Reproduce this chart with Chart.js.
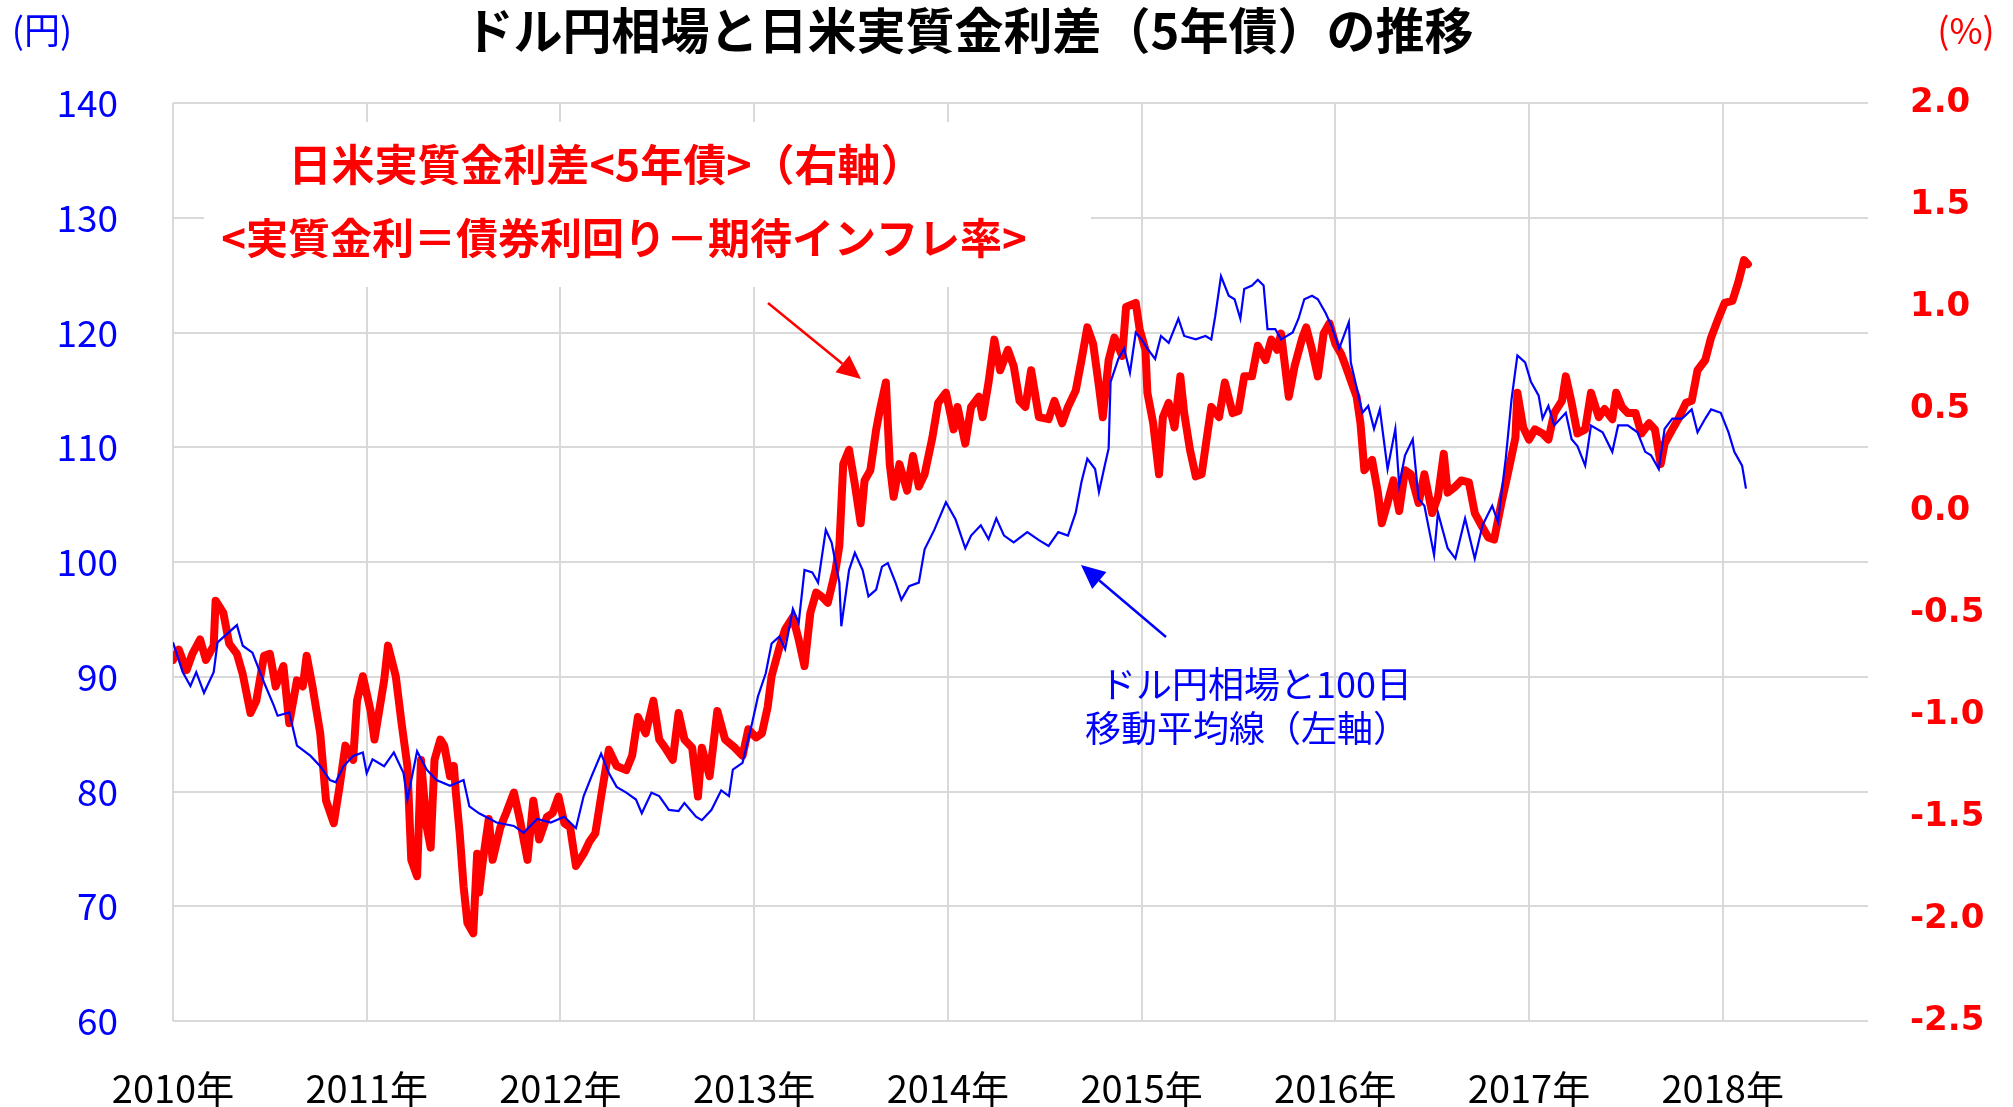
<!DOCTYPE html>
<html>
<head>
<meta charset="utf-8">
<script src="https://cdn.jsdelivr.net/npm/chart.js@4.4.1/dist/chart.umd.min.js"></script>
<style>
    html, body { margin: 0; padding: 0; background: #ffffff; }
    #chart { display: block; }
</style>
</head>
<body>
<canvas id="chart" width="2013" height="1107"></canvas>
<script>
// DATA
const yearTicks = [2010, 2011, 2012, 2013, 2014, 2015, 2016, 2017, 2018];

// ドル円相場 (左軸, 円)
const usdDates = [
    2010.00, 2010.05, 2010.09, 2010.12, 2010.16, 2010.21, 2010.23, 2010.33, 2010.36, 2010.41,
    2010.47, 2010.52, 2010.54, 2010.60, 2010.64, 2010.71, 2010.76, 2010.81, 2010.84, 2010.88,
    2010.93, 2010.98, 2011.00, 2011.03, 2011.09, 2011.14, 2011.19, 2011.21, 2011.26, 2011.31,
    2011.36, 2011.43, 2011.50, 2011.53, 2011.58, 2011.67, 2011.76, 2011.81, 2011.88, 2011.95,
    2012.02, 2012.08, 2012.12, 2012.16, 2012.21, 2012.25, 2012.29, 2012.34, 2012.39, 2012.42,
    2012.47, 2012.51, 2012.56, 2012.61, 2012.64, 2012.70, 2012.73, 2012.78, 2012.83, 2012.87,
    2012.89, 2012.94, 2012.99, 2013.02, 2013.06, 2013.09, 2013.13, 2013.16, 2013.20, 2013.23,
    2013.26, 2013.30, 2013.33, 2013.37, 2013.40, 2013.44, 2013.45, 2013.49, 2013.52, 2013.56,
    2013.59, 2013.63, 2013.66, 2013.69, 2013.73, 2013.76, 2013.80, 2013.85, 2013.88, 2013.93,
    2013.99, 2014.04, 2014.09, 2014.12, 2014.17, 2014.21, 2014.25, 2014.29, 2014.34, 2014.41,
    2014.47, 2014.52, 2014.57, 2014.62, 2014.66, 2014.69, 2014.72, 2014.76, 2014.78, 2014.81,
    2014.83, 2014.84, 2014.88, 2014.91, 2014.94, 2014.97, 2015.00, 2015.03, 2015.07, 2015.10,
    2015.14, 2015.19, 2015.22, 2015.28, 2015.33, 2015.36, 2015.38, 2015.41, 2015.45, 2015.48,
    2015.51, 2015.53, 2015.57, 2015.60, 2015.63, 2015.65, 2015.69, 2015.72, 2015.78, 2015.81,
    2015.84, 2015.88, 2015.91, 2015.95, 2015.98, 2016.02, 2016.07, 2016.08, 2016.14, 2016.17,
    2016.20, 2016.23, 2016.27, 2016.31, 2016.33, 2016.36, 2016.40, 2016.43, 2016.46, 2016.51,
    2016.53, 2016.58, 2016.62, 2016.67, 2016.72, 2016.76, 2016.81, 2016.84, 2016.88, 2016.91,
    2016.94, 2016.98, 2017.01, 2017.05, 2017.07, 2017.10, 2017.13, 2017.19, 2017.22, 2017.25,
    2017.29, 2017.32, 2017.38, 2017.43, 2017.46, 2017.51, 2017.56, 2017.60, 2017.63, 2017.67,
    2017.70, 2017.74, 2017.79, 2017.84, 2017.87, 2017.91, 2017.94, 2017.99, 2018.03, 2018.06,
    2018.10, 2018.12
];
const usdValues = [
    93.0, 90.4, 89.2, 90.4, 88.6, 90.4, 93.0, 94.5, 92.7, 92.1,
    89.5, 87.5, 86.6, 86.9, 84.0, 83.1, 82.2, 81.0, 80.8, 82.2,
    83.1, 83.4, 81.6, 82.8, 82.2, 83.4, 81.6, 79.3, 83.5, 81.9,
    81.0, 80.5, 81.0, 78.7, 78.1, 77.3, 77.0, 76.4, 77.6, 77.3,
    77.8, 76.8, 79.6, 81.3, 83.3, 81.6, 80.4, 79.9, 79.3, 78.1,
    79.9, 79.6, 78.4, 78.3, 79.0, 77.8, 77.5, 78.4, 80.1, 79.6,
    81.9, 82.5, 86.0, 88.3, 90.3, 92.9, 93.5, 92.4, 95.9, 94.7,
    99.3, 99.1, 98.2, 102.8, 101.7, 98.2, 94.4, 99.3, 100.8, 99.3,
    97.0, 97.6, 99.6, 99.9, 98.2, 96.7, 97.9, 98.2, 101.1, 102.8,
    105.2, 103.7, 101.2, 102.3, 103.2, 102.0, 103.8, 102.3, 101.7, 102.6,
    101.9, 101.4, 102.6, 102.3, 104.3, 107.0, 109.0, 108.1, 106.1, 108.4,
    109.9, 115.7, 117.7, 118.6, 116.5, 120.0, 119.4, 118.6, 117.7, 119.7,
    119.1, 121.2, 119.7, 119.4, 119.7, 119.4, 121.4, 124.9, 123.2, 122.9,
    121.2, 123.8, 124.1, 124.6, 124.1, 120.3, 120.3, 119.4, 120.0, 121.2,
    122.9, 123.2, 122.9, 121.7, 120.6, 118.6, 120.9, 117.4, 113.0, 113.6,
    111.6, 113.3, 108.1, 111.6, 106.7, 109.3, 110.7, 105.5, 104.9, 100.6,
    104.3, 101.2, 100.3, 103.8, 100.3, 103.2, 104.9, 103.5, 109.0, 114.2,
    118.0, 117.4, 115.7, 114.5, 112.5, 113.6, 111.9, 113.0, 110.7, 110.1,
    108.4, 111.9, 111.3, 109.6, 111.9, 111.9, 111.3, 109.6, 109.3, 108.1,
    111.6, 112.5, 112.5, 113.3, 111.3, 112.5, 113.3, 113.0, 111.3, 109.6,
    108.4, 106.4
];

// 日米実質金利差<5年債> (右軸, %)
const diffDates = [
    2010.00, 2010.03, 2010.07, 2010.10, 2010.14, 2010.17, 2010.21, 2010.22, 2010.26, 2010.29,
    2010.33, 2010.36, 2010.40, 2010.43, 2010.47, 2010.50, 2010.53, 2010.57, 2010.60, 2010.64,
    2010.67, 2010.69, 2010.72, 2010.76, 2010.79, 2010.83, 2010.86, 2010.89, 2010.93, 2010.95,
    2010.98, 2011.02, 2011.04, 2011.09, 2011.11, 2011.15, 2011.18, 2011.21, 2011.23, 2011.26,
    2011.28, 2011.31, 2011.33, 2011.35, 2011.38, 2011.40, 2011.43, 2011.45, 2011.46, 2011.48,
    2011.50, 2011.52, 2011.55, 2011.57, 2011.58, 2011.60, 2011.63, 2011.65, 2011.69, 2011.72,
    2011.76, 2011.79, 2011.83, 2011.86, 2011.89, 2011.93, 2011.96, 2011.99, 2012.02, 2012.05,
    2012.08, 2012.12, 2012.15, 2012.18, 2012.21, 2012.25, 2012.29, 2012.34, 2012.37, 2012.40,
    2012.44, 2012.48, 2012.51, 2012.54, 2012.58, 2012.61, 2012.64, 2012.68, 2012.71, 2012.73,
    2012.77, 2012.81, 2012.85, 2012.90, 2012.94, 2012.97, 2013.01, 2013.04, 2013.07, 2013.09,
    2013.13, 2013.16, 2013.20, 2013.23, 2013.26, 2013.29, 2013.32, 2013.35, 2013.38, 2013.42,
    2013.44, 2013.46, 2013.49, 2013.52, 2013.55, 2013.57, 2013.60, 2013.63, 2013.65, 2013.68,
    2013.70, 2013.72, 2013.75, 2013.79, 2013.82, 2013.85, 2013.88, 2013.92, 2013.95, 2013.99,
    2014.03, 2014.05, 2014.09, 2014.12, 2014.16, 2014.18, 2014.21, 2014.24, 2014.27, 2014.31,
    2014.34, 2014.37, 2014.40, 2014.43, 2014.47, 2014.52, 2014.55, 2014.59, 2014.62, 2014.66,
    2014.69, 2014.72, 2014.75, 2014.78, 2014.80, 2014.83, 2014.86, 2014.90, 2014.92, 2014.97,
    2014.99, 2015.02, 2015.03, 2015.06, 2015.09, 2015.11, 2015.14, 2015.17, 2015.20, 2015.22,
    2015.25, 2015.28, 2015.31, 2015.34, 2015.36, 2015.40, 2015.43, 2015.47, 2015.50, 2015.53,
    2015.57, 2015.60, 2015.64, 2015.67, 2015.70, 2015.72, 2015.76, 2015.79, 2015.83, 2015.85,
    2015.88, 2015.91, 2015.94, 2015.97, 2016.00, 2016.03, 2016.05, 2016.08, 2016.11, 2016.13,
    2016.15, 2016.19, 2016.22, 2016.24, 2016.27, 2016.30, 2016.33, 2016.36, 2016.39, 2016.43,
    2016.46, 2016.50, 2016.53, 2016.56, 2016.58, 2016.62, 2016.65, 2016.69, 2016.72, 2016.76,
    2016.79, 2016.82, 2016.86, 2016.89, 2016.93, 2016.94, 2016.97, 2017.00, 2017.03, 2017.07,
    2017.10, 2017.13, 2017.17, 2017.19, 2017.22, 2017.25, 2017.29, 2017.32, 2017.36, 2017.39,
    2017.43, 2017.45, 2017.48, 2017.51, 2017.55, 2017.58, 2017.62, 2017.65, 2017.68, 2017.70,
    2017.74, 2017.77, 2017.81, 2017.84, 2017.87, 2017.91, 2017.94, 2017.98, 2018.01, 2018.05,
    2018.08, 2018.11, 2018.13
];
const diffValues = [
    -0.73, -0.68, -0.78, -0.70, -0.63, -0.73, -0.66, -0.44, -0.50, -0.65,
    -0.70, -0.80, -0.99, -0.93, -0.71, -0.70, -0.86, -0.76, -1.04, -0.83,
    -0.86, -0.71, -0.86, -1.09, -1.42, -1.53, -1.35, -1.15, -1.22, -0.93,
    -0.81, -0.98, -1.12, -0.83, -0.66, -0.81, -1.04, -1.25, -1.71, -1.79,
    -1.22, -1.55, -1.65, -1.22, -1.12, -1.15, -1.30, -1.25, -1.38, -1.58,
    -1.84, -2.02, -2.07, -1.68, -1.87, -1.71, -1.51, -1.71, -1.55, -1.48,
    -1.38, -1.51, -1.71, -1.42, -1.61, -1.50, -1.48, -1.40, -1.53, -1.55,
    -1.74, -1.68, -1.62, -1.58, -1.40, -1.17, -1.25, -1.27, -1.20, -1.01,
    -1.09, -0.93, -1.12, -1.16, -1.22, -0.99, -1.12, -1.16, -1.40, -1.16,
    -1.30, -0.98, -1.12, -1.16, -1.20, -1.07, -1.11, -1.09, -0.96, -0.81,
    -0.67, -0.58, -0.52, -0.63, -0.76, -0.50, -0.40, -0.42, -0.45, -0.29,
    -0.17, 0.23, 0.30, 0.13, -0.06, 0.15, 0.20, 0.40, 0.50, 0.63,
    0.23, 0.07, 0.23, 0.10, 0.27, 0.12, 0.18, 0.36, 0.53, 0.58,
    0.40, 0.51, 0.33, 0.51, 0.56, 0.46, 0.63, 0.84, 0.69, 0.79,
    0.71, 0.54, 0.51, 0.69, 0.46, 0.45, 0.54, 0.43, 0.51, 0.59,
    0.74, 0.90, 0.82, 0.61, 0.46, 0.74, 0.85, 0.76, 1.00, 1.02,
    0.89, 0.79, 0.58, 0.43, 0.18, 0.46, 0.53, 0.41, 0.66, 0.48,
    0.30, 0.17, 0.18, 0.38, 0.51, 0.46, 0.63, 0.48, 0.49, 0.66,
    0.66, 0.81, 0.74, 0.84, 0.79, 0.87, 0.56, 0.71, 0.85, 0.90,
    0.79, 0.66, 0.87, 0.92, 0.82, 0.77, 0.72, 0.64, 0.56, 0.43,
    0.20, 0.25, 0.09, -0.06, 0.04, 0.15, 0.00, 0.20, 0.18, 0.04,
    0.18, -0.01, 0.07, 0.28, 0.09, 0.12, 0.15, 0.14, -0.01, -0.08,
    -0.13, -0.14, 0.05, 0.18, 0.36, 0.58, 0.41, 0.35, 0.40, 0.38,
    0.35, 0.48, 0.54, 0.66, 0.53, 0.38, 0.40, 0.58, 0.46, 0.50,
    0.45, 0.58, 0.51, 0.48, 0.48, 0.38, 0.43, 0.40, 0.23, 0.33,
    0.40, 0.45, 0.53, 0.54, 0.69, 0.74, 0.85, 0.95, 1.02, 1.03,
    1.12, 1.23, 1.21
];

const JP_FONT = "'Noto Sans CJK JP', 'Noto Sans', sans-serif";

function drawArrow(ctx, x1, y1, x2, y2, color) {
    const ang = Math.atan2(y2 - y1, x2 - x1);
    const headLen = 24, headW = 11;
    ctx.save();
    ctx.strokeStyle = color;
    ctx.fillStyle = color;
    ctx.lineWidth = 2.5;
    ctx.beginPath();
    ctx.moveTo(x1, y1);
    ctx.lineTo(x2 - headLen * Math.cos(ang), y2 - headLen * Math.sin(ang));
    ctx.stroke();
    ctx.beginPath();
    ctx.moveTo(x2, y2);
    ctx.lineTo(x2 - headLen * Math.cos(ang) + headW * Math.sin(ang), y2 - headLen * Math.sin(ang) - headW * Math.cos(ang));
    ctx.lineTo(x2 - headLen * Math.cos(ang) - headW * Math.sin(ang), y2 - headLen * Math.sin(ang) + headW * Math.cos(ang));
    ctx.closePath();
    ctx.fill();
    ctx.restore();
}

// title, axis units, notes and arrows
const notesPlugin = {
    id: 'notes',
    beforeDatasetsDraw(chart) {
        const ctx = chart.ctx;
        ctx.save();
        ctx.fillStyle = '#ffffff';
        ctx.fillRect(204, 122, 887, 165);
        ctx.restore();
    },
    afterDraw(chart) {
        const ctx = chart.ctx;
        ctx.save();
        ctx.textAlign = 'center';
        ctx.textBaseline = 'middle';

        ctx.fillStyle = '#000000';
        ctx.font = 'bold 49px ' + JP_FONT;
        ctx.fillText('ドル円相場と日米実質金利差（5年債）の推移', 969, 30);

        ctx.fillStyle = '#0000ff';
        ctx.font = '36px ' + JP_FONT;
        ctx.fillText('(円)', 42, 30);

        ctx.fillStyle = '#ff0000';
        ctx.font = '36px ' + JP_FONT;
        ctx.fillText('(%)', 1966, 30);

        ctx.font = 'bold 43px ' + JP_FONT;
        ctx.fillText('日米実質金利差<5年債>（右軸）', 606, 165);
        ctx.font = 'bold 42px ' + JP_FONT;
        ctx.fillText('<実質金利＝債券利回り－期待インフレ率>', 624, 238);

        ctx.fillStyle = '#0000ff';
        ctx.font = '36px ' + JP_FONT;
        ctx.fillText('ドル円相場と100日', 1256, 684);
        ctx.fillText('移動平均線（左軸）', 1247, 728);
        ctx.restore();

        drawArrow(ctx, 768, 303, 861, 379, '#ff0000');
        drawArrow(ctx, 1166, 637, 1081, 565, '#0000ff');
    }
};

new Chart(document.getElementById('chart'), {
    type: 'line',
    data: {
        datasets: [{
            label: 'ドル円相場',
            data: usdDates.map((d, i) => ({ x: d, y: usdValues[i] })),
            yAxisID: 'yLeft',
            borderColor: '#0000ff',
            borderWidth: 2.2,
            pointRadius: 0,
            tension: 0
        }, {
            label: '日米実質金利差',
            data: diffDates.map((d, i) => ({ x: d, y: diffValues[i] })),
            yAxisID: 'yRight',
            borderColor: '#ff0000',
            borderWidth: 8,
            borderJoinStyle: 'round',
            borderCapStyle: 'round',
            pointRadius: 0,
            tension: 0
        }]
    },
    options: {
        responsive: false,
        devicePixelRatio: 1,
        animation: false,
        layout: { padding: { top: 103, left: 0, right: 0, bottom: 0 } },
        plugins: {
            legend: { display: false },
            title: { display: false },
            tooltip: { enabled: false }
        },
        scales: {
            x: {
                type: 'linear',
                min: 2010,
                max: 2018.75,
                afterBuildTicks: axis => { axis.ticks = yearTicks.map(v => ({ value: v })); },
                afterFit: axis => { axis.height = 86; },
                grid: { color: '#d9d9d9', lineWidth: 2, drawTicks: false },
                border: { display: false },
                ticks: {
                    autoSkip: false,
                    maxRotation: 0,
                    padding: 45,
                    color: '#000000',
                    font: { family: JP_FONT, size: 38 },
                    callback: v => v + '年'
                }
            },
            yLeft: {
                position: 'left',
                min: 60,
                max: 140,
                afterFit: axis => { axis.width = 173; },
                grid: { color: '#d9d9d9', lineWidth: 2, drawTicks: false },
                border: { display: false },
                ticks: {
                    stepSize: 10,
                    padding: 55,
                    color: '#0000ff',
                    font: { family: JP_FONT, size: 37 }
                }
            },
            yRight: {
                position: 'right',
                min: -2.5,
                max: 2.0,
                afterFit: axis => { axis.width = 145; },
                grid: { display: false, drawTicks: false },
                border: { display: false },
                ticks: {
                    stepSize: 0.5,
                    padding: 42,
                    color: '#ff0000',
                    font: { family: "'DejaVu Sans', Verdana, sans-serif", size: 34, weight: 'bold' },
                    callback: v => Number(v).toFixed(1)
                }
            }
        }
    },
    plugins: [notesPlugin]
});
</script>
</body>
</html>
